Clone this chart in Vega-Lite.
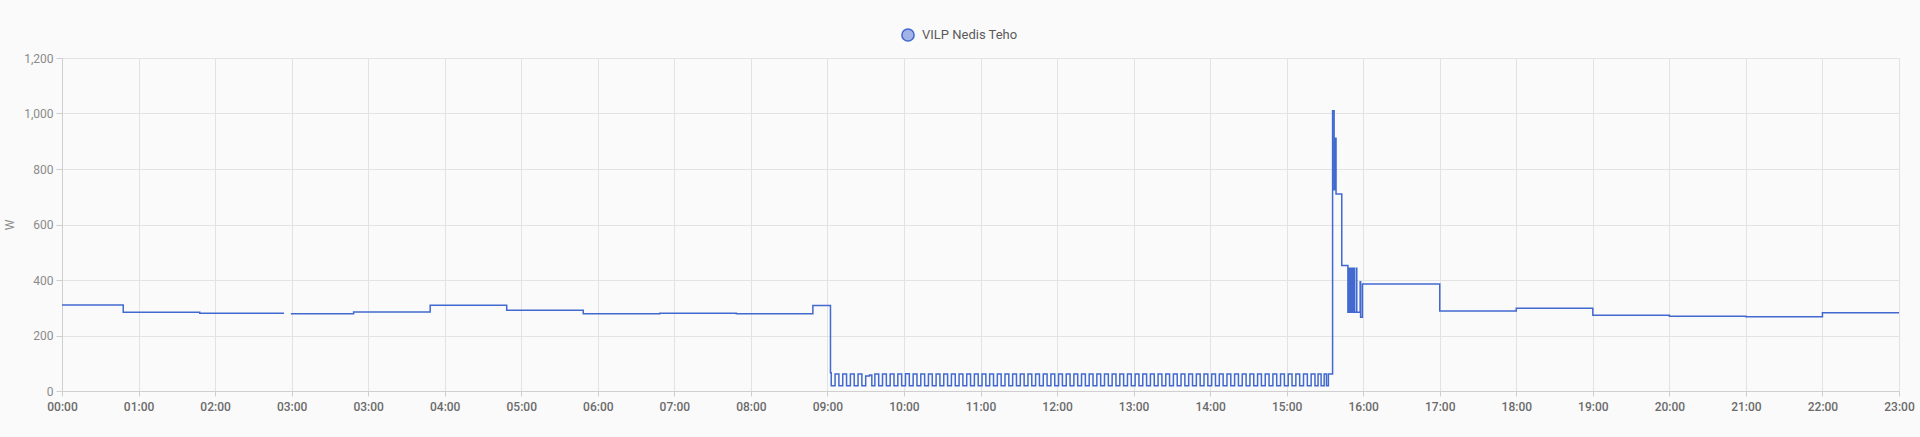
{
  "$schema": "https://vega.github.io/schema/vega-lite/v6.json",
  "autosize": {"type": "none"},
  "padding": {"left": 62, "top": 58, "right": 21, "bottom": 46},
  "width": 1837,
  "height": 333,
  "background": "#fafafa",
  "config": {
    "view": {"stroke": null},
    "font": "Roboto",
    "axis": {"gridColor": "#e3e3e3", "gridWidth": 1, "domainColor": "#cfcfcf", "tickColor": "#cfcfcf", "labelFont": "Roboto", "titleFont": "Roboto"}
  },
  "data": {
    "values": [
      {"t": 0, "w": 310, "s": "VILP Nedis Teho"},
      {"t": 0.80, "w": 284, "s": "VILP Nedis Teho"},
      {"t": 1.80, "w": 280, "s": "VILP Nedis Teho"},
      {"t": 2.90, "w": 280, "s": "VILP Nedis Teho"},
      {"t": 2.95, "w": null, "s": "VILP Nedis Teho"},
      {"t": 2.99, "w": 278, "s": "VILP Nedis Teho"},
      {"t": 3.81, "w": 285, "s": "VILP Nedis Teho"},
      {"t": 4.81, "w": 309, "s": "VILP Nedis Teho"},
      {"t": 5.81, "w": 291, "s": "VILP Nedis Teho"},
      {"t": 6.81, "w": 278, "s": "VILP Nedis Teho"},
      {"t": 7.81, "w": 280, "s": "VILP Nedis Teho"},
      {"t": 8.81, "w": 278, "s": "VILP Nedis Teho"},
      {"t": 9.81, "w": 308, "s": "VILP Nedis Teho"},
      {"t": 10.04, "w": 66, "s": "VILP Nedis Teho"},
      {"t": 10.05, "w": 19, "s": "VILP Nedis Teho"},
      {"t": 10.10, "w": 61, "s": "VILP Nedis Teho"},
      {"t": 10.15, "w": 19, "s": "VILP Nedis Teho"},
      {"t": 10.20, "w": 61, "s": "VILP Nedis Teho"},
      {"t": 10.25, "w": 19, "s": "VILP Nedis Teho"},
      {"t": 10.30, "w": 61, "s": "VILP Nedis Teho"},
      {"t": 10.35, "w": 19, "s": "VILP Nedis Teho"},
      {"t": 10.40, "w": 61, "s": "VILP Nedis Teho"},
      {"t": 10.45, "w": 19, "s": "VILP Nedis Teho"},
      {"t": 10.50, "w": 54, "s": "VILP Nedis Teho"},
      {"t": 10.55, "w": 58, "s": "VILP Nedis Teho"},
      {"t": 10.58, "w": 19, "s": "VILP Nedis Teho"},
      {"t": 10.62, "w": 61, "s": "VILP Nedis Teho"},
      {"t": 10.67, "w": 19, "s": "VILP Nedis Teho"},
      {"t": 10.72, "w": 61, "s": "VILP Nedis Teho"},
      {"t": 10.77, "w": 19, "s": "VILP Nedis Teho"},
      {"t": 10.82, "w": 61, "s": "VILP Nedis Teho"},
      {"t": 10.87, "w": 19, "s": "VILP Nedis Teho"},
      {"t": 10.92, "w": 61, "s": "VILP Nedis Teho"},
      {"t": 10.97, "w": 19, "s": "VILP Nedis Teho"},
      {"t": 11.02, "w": 62, "s": "VILP Nedis Teho"},
      {"t": 11.07, "w": 19, "s": "VILP Nedis Teho"},
      {"t": 11.12, "w": 61, "s": "VILP Nedis Teho"},
      {"t": 11.17, "w": 19, "s": "VILP Nedis Teho"},
      {"t": 11.22, "w": 61, "s": "VILP Nedis Teho"},
      {"t": 11.27, "w": 19, "s": "VILP Nedis Teho"},
      {"t": 11.32, "w": 61, "s": "VILP Nedis Teho"},
      {"t": 11.37, "w": 19, "s": "VILP Nedis Teho"},
      {"t": 11.42, "w": 61, "s": "VILP Nedis Teho"},
      {"t": 11.47, "w": 19, "s": "VILP Nedis Teho"},
      {"t": 11.52, "w": 61, "s": "VILP Nedis Teho"},
      {"t": 11.57, "w": 19, "s": "VILP Nedis Teho"},
      {"t": 11.62, "w": 61, "s": "VILP Nedis Teho"},
      {"t": 11.67, "w": 19, "s": "VILP Nedis Teho"},
      {"t": 11.72, "w": 61, "s": "VILP Nedis Teho"},
      {"t": 11.77, "w": 19, "s": "VILP Nedis Teho"},
      {"t": 11.82, "w": 61, "s": "VILP Nedis Teho"},
      {"t": 11.87, "w": 19, "s": "VILP Nedis Teho"},
      {"t": 11.92, "w": 61, "s": "VILP Nedis Teho"},
      {"t": 11.97, "w": 19, "s": "VILP Nedis Teho"},
      {"t": 12.02, "w": 61, "s": "VILP Nedis Teho"},
      {"t": 12.07, "w": 19, "s": "VILP Nedis Teho"},
      {"t": 12.12, "w": 61, "s": "VILP Nedis Teho"},
      {"t": 12.17, "w": 19, "s": "VILP Nedis Teho"},
      {"t": 12.22, "w": 61, "s": "VILP Nedis Teho"},
      {"t": 12.27, "w": 19, "s": "VILP Nedis Teho"},
      {"t": 12.32, "w": 61, "s": "VILP Nedis Teho"},
      {"t": 12.37, "w": 19, "s": "VILP Nedis Teho"},
      {"t": 12.42, "w": 61, "s": "VILP Nedis Teho"},
      {"t": 12.47, "w": 19, "s": "VILP Nedis Teho"},
      {"t": 12.52, "w": 61, "s": "VILP Nedis Teho"},
      {"t": 12.57, "w": 19, "s": "VILP Nedis Teho"},
      {"t": 12.62, "w": 61, "s": "VILP Nedis Teho"},
      {"t": 12.67, "w": 19, "s": "VILP Nedis Teho"},
      {"t": 12.72, "w": 61, "s": "VILP Nedis Teho"},
      {"t": 12.77, "w": 19, "s": "VILP Nedis Teho"},
      {"t": 12.82, "w": 61, "s": "VILP Nedis Teho"},
      {"t": 12.87, "w": 19, "s": "VILP Nedis Teho"},
      {"t": 12.92, "w": 61, "s": "VILP Nedis Teho"},
      {"t": 12.97, "w": 19, "s": "VILP Nedis Teho"},
      {"t": 13.02, "w": 61, "s": "VILP Nedis Teho"},
      {"t": 13.07, "w": 19, "s": "VILP Nedis Teho"},
      {"t": 13.12, "w": 61, "s": "VILP Nedis Teho"},
      {"t": 13.17, "w": 19, "s": "VILP Nedis Teho"},
      {"t": 13.22, "w": 61, "s": "VILP Nedis Teho"},
      {"t": 13.27, "w": 19, "s": "VILP Nedis Teho"},
      {"t": 13.32, "w": 61, "s": "VILP Nedis Teho"},
      {"t": 13.37, "w": 19, "s": "VILP Nedis Teho"},
      {"t": 13.42, "w": 61, "s": "VILP Nedis Teho"},
      {"t": 13.47, "w": 19, "s": "VILP Nedis Teho"},
      {"t": 13.52, "w": 61, "s": "VILP Nedis Teho"},
      {"t": 13.57, "w": 19, "s": "VILP Nedis Teho"},
      {"t": 13.62, "w": 61, "s": "VILP Nedis Teho"},
      {"t": 13.67, "w": 19, "s": "VILP Nedis Teho"},
      {"t": 13.72, "w": 61, "s": "VILP Nedis Teho"},
      {"t": 13.77, "w": 19, "s": "VILP Nedis Teho"},
      {"t": 13.82, "w": 61, "s": "VILP Nedis Teho"},
      {"t": 13.87, "w": 19, "s": "VILP Nedis Teho"},
      {"t": 13.92, "w": 61, "s": "VILP Nedis Teho"},
      {"t": 13.97, "w": 19, "s": "VILP Nedis Teho"},
      {"t": 14.02, "w": 61, "s": "VILP Nedis Teho"},
      {"t": 14.07, "w": 19, "s": "VILP Nedis Teho"},
      {"t": 14.12, "w": 61, "s": "VILP Nedis Teho"},
      {"t": 14.17, "w": 19, "s": "VILP Nedis Teho"},
      {"t": 14.22, "w": 61, "s": "VILP Nedis Teho"},
      {"t": 14.27, "w": 19, "s": "VILP Nedis Teho"},
      {"t": 14.32, "w": 61, "s": "VILP Nedis Teho"},
      {"t": 14.37, "w": 19, "s": "VILP Nedis Teho"},
      {"t": 14.42, "w": 61, "s": "VILP Nedis Teho"},
      {"t": 14.47, "w": 19, "s": "VILP Nedis Teho"},
      {"t": 14.52, "w": 61, "s": "VILP Nedis Teho"},
      {"t": 14.57, "w": 19, "s": "VILP Nedis Teho"},
      {"t": 14.62, "w": 61, "s": "VILP Nedis Teho"},
      {"t": 14.67, "w": 19, "s": "VILP Nedis Teho"},
      {"t": 14.72, "w": 61, "s": "VILP Nedis Teho"},
      {"t": 14.77, "w": 19, "s": "VILP Nedis Teho"},
      {"t": 14.82, "w": 61, "s": "VILP Nedis Teho"},
      {"t": 14.87, "w": 19, "s": "VILP Nedis Teho"},
      {"t": 14.92, "w": 61, "s": "VILP Nedis Teho"},
      {"t": 14.97, "w": 19, "s": "VILP Nedis Teho"},
      {"t": 15.02, "w": 61, "s": "VILP Nedis Teho"},
      {"t": 15.07, "w": 19, "s": "VILP Nedis Teho"},
      {"t": 15.12, "w": 61, "s": "VILP Nedis Teho"},
      {"t": 15.17, "w": 19, "s": "VILP Nedis Teho"},
      {"t": 15.22, "w": 61, "s": "VILP Nedis Teho"},
      {"t": 15.27, "w": 19, "s": "VILP Nedis Teho"},
      {"t": 15.32, "w": 61, "s": "VILP Nedis Teho"},
      {"t": 15.37, "w": 19, "s": "VILP Nedis Teho"},
      {"t": 15.42, "w": 61, "s": "VILP Nedis Teho"},
      {"t": 15.47, "w": 19, "s": "VILP Nedis Teho"},
      {"t": 15.52, "w": 61, "s": "VILP Nedis Teho"},
      {"t": 15.57, "w": 19, "s": "VILP Nedis Teho"},
      {"t": 15.62, "w": 61, "s": "VILP Nedis Teho"},
      {"t": 15.67, "w": 19, "s": "VILP Nedis Teho"},
      {"t": 15.72, "w": 61, "s": "VILP Nedis Teho"},
      {"t": 15.77, "w": 19, "s": "VILP Nedis Teho"},
      {"t": 15.82, "w": 61, "s": "VILP Nedis Teho"},
      {"t": 15.87, "w": 19, "s": "VILP Nedis Teho"},
      {"t": 15.92, "w": 61, "s": "VILP Nedis Teho"},
      {"t": 15.97, "w": 19, "s": "VILP Nedis Teho"},
      {"t": 16.02, "w": 61, "s": "VILP Nedis Teho"},
      {"t": 16.07, "w": 19, "s": "VILP Nedis Teho"},
      {"t": 16.12, "w": 61, "s": "VILP Nedis Teho"},
      {"t": 16.17, "w": 19, "s": "VILP Nedis Teho"},
      {"t": 16.22, "w": 61, "s": "VILP Nedis Teho"},
      {"t": 16.27, "w": 19, "s": "VILP Nedis Teho"},
      {"t": 16.32, "w": 61, "s": "VILP Nedis Teho"},
      {"t": 16.37, "w": 19, "s": "VILP Nedis Teho"},
      {"t": 16.41, "w": 61, "s": "VILP Nedis Teho"},
      {"t": 16.45, "w": 19, "s": "VILP Nedis Teho"},
      {"t": 16.49, "w": 61, "s": "VILP Nedis Teho"},
      {"t": 16.52, "w": 19, "s": "VILP Nedis Teho"},
      {"t": 16.545, "w": 61, "s": "VILP Nedis Teho"},
      {"t": 16.60, "w": 1010, "s": "VILP Nedis Teho"},
      {"t": 16.62, "w": 725, "s": "VILP Nedis Teho"},
      {"t": 16.63, "w": 911, "s": "VILP Nedis Teho"},
      {"t": 16.645, "w": 710, "s": "VILP Nedis Teho"},
      {"t": 16.72, "w": 452, "s": "VILP Nedis Teho"},
      {"t": 16.80, "w": 284, "s": "VILP Nedis Teho"},
      {"t": 16.806, "w": 442, "s": "VILP Nedis Teho"},
      {"t": 16.812, "w": 284, "s": "VILP Nedis Teho"},
      {"t": 16.818, "w": 442, "s": "VILP Nedis Teho"},
      {"t": 16.824, "w": 284, "s": "VILP Nedis Teho"},
      {"t": 16.830, "w": 442, "s": "VILP Nedis Teho"},
      {"t": 16.836, "w": 284, "s": "VILP Nedis Teho"},
      {"t": 16.842, "w": 442, "s": "VILP Nedis Teho"},
      {"t": 16.848, "w": 284, "s": "VILP Nedis Teho"},
      {"t": 16.854, "w": 442, "s": "VILP Nedis Teho"},
      {"t": 16.860, "w": 284, "s": "VILP Nedis Teho"},
      {"t": 16.866, "w": 442, "s": "VILP Nedis Teho"},
      {"t": 16.872, "w": 284, "s": "VILP Nedis Teho"},
      {"t": 16.878, "w": 442, "s": "VILP Nedis Teho"},
      {"t": 16.884, "w": 284, "s": "VILP Nedis Teho"},
      {"t": 16.91, "w": 442, "s": "VILP Nedis Teho"},
      {"t": 16.916, "w": 284, "s": "VILP Nedis Teho"},
      {"t": 16.96, "w": 394, "s": "VILP Nedis Teho"},
      {"t": 16.966, "w": 266, "s": "VILP Nedis Teho"},
      {"t": 16.99, "w": 386, "s": "VILP Nedis Teho"},
      {"t": 18.00, "w": 288, "s": "VILP Nedis Teho"},
      {"t": 19.00, "w": 298, "s": "VILP Nedis Teho"},
      {"t": 20.00, "w": 273, "s": "VILP Nedis Teho"},
      {"t": 21.00, "w": 269, "s": "VILP Nedis Teho"},
      {"t": 22.00, "w": 268, "s": "VILP Nedis Teho"},
      {"t": 23.00, "w": 282, "s": "VILP Nedis Teho"},
      {"t": 24.00, "w": 282, "s": "VILP Nedis Teho"}
    ]
  },
  "mark": {"type": "line", "interpolate": "step-after", "strokeWidth": 1.5, "clip": true},
  "encoding": {
    "x": {
      "field": "t",
      "type": "quantitative",
      "scale": {"domain": [0, 24], "nice": false, "zero": false},
      "axis": {
        "title": null,
        "values": [0,1,2,3,4,5,6,7,8,9,10,11,12,13,14,15,16,17,18,19,20,21,22,23,24],
        "labelExpr": "((datum.value <= 3 ? datum.value : datum.value - 1) < 10 ? '0' : '') + (datum.value <= 3 ? datum.value : datum.value - 1) + ':00'",
        "labelFontSize": 12,
        "labelFontWeight": 500,
        "labelColor": "#6b6b6b",
        "tickSize": 5,
        "labelPadding": 5,
        "labelFlush": false,
        "labelOverlap": false,
        "grid": true,
        "domain": true
      }
    },
    "y": {
      "field": "w",
      "type": "quantitative",
      "scale": {"domain": [0, 1200], "nice": false},
      "axis": {
        "title": "W",
        "values": [0, 200, 400, 600, 800, 1000, 1200],
        "format": ",.0f",
        "labelFontSize": 12,
        "labelColor": "#8a8a8a",
        "labelFontWeight": "normal",
        "tickSize": 6,
        "labelPadding": 3,
        "titleFontSize": 12,
        "titleFontWeight": "normal",
        "titleColor": "#8a8a8a",
        "titlePadding": 7,
        "grid": true,
        "domain": true
      }
    },
    "color": {
      "field": "s",
      "type": "nominal",
      "scale": {"range": ["#4269d0"]},
      "legend": {
        "title": null,
        "orient": "none",
        "legendX": 839,
        "legendY": -30,
        "padding": 0,
        "symbolType": "circle",
        "symbolSize": 150,
        "labelFontSize": 13,
        "labelColor": "#5a5a5a",
        "labelFont": "Roboto",
        "labelOffset": 7,
        "encode": {
          "symbols": {"update": {"fill": {"value": "#a1b3e7"}, "stroke": {"value": "#4269d0"}, "strokeWidth": {"value": 1.5}, "opacity": {"value": 1}}}
        }
      }
    }
  }
}
